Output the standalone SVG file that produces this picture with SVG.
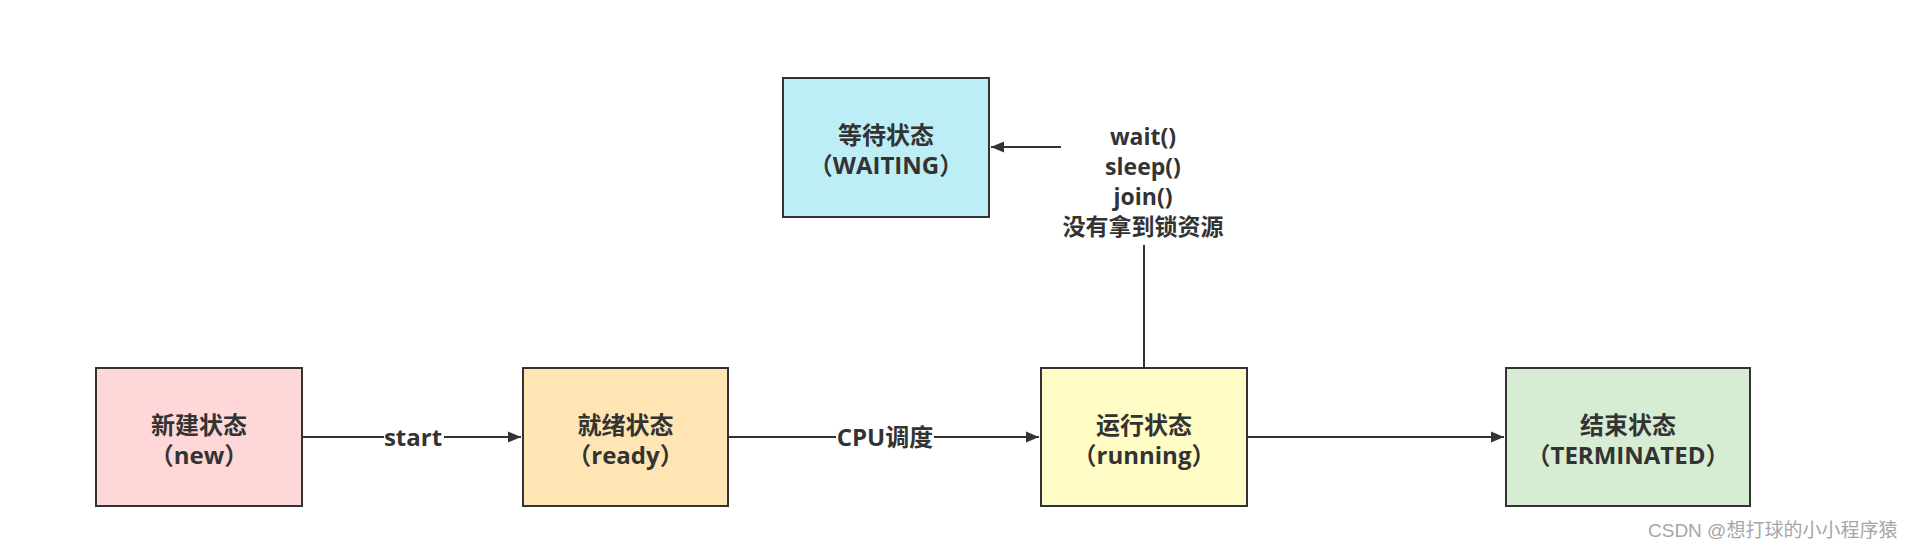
<svg xmlns="http://www.w3.org/2000/svg" width="1914" height="547" viewBox="0 0 1914 547">
<style>
.box{stroke:#333;stroke-width:2}
.lbl{font-family:"Open Sans","Noto Sans CJK SC",sans-serif;font-weight:bold;font-size:24px;fill:#333;text-anchor:middle}
.elbl{font-size:23px}
.edge{fill:none;stroke:#333;stroke-width:2}
.wm{font-family:"Liberation Sans","Noto Sans CJK SC",sans-serif;font-size:19px;fill:#a6a6a6}
</style>
<defs>
<marker id="arr" markerUnits="userSpaceOnUse" markerWidth="14" markerHeight="12" refX="13" refY="6" orient="auto">
<path d="M0,0.5 L13,6 L0,11.5 Z" fill="#333"/>
</marker>
</defs>
<rect width="1914" height="547" fill="#fff"/>

<g id="connectors">
<path class="edge" d="M302,437 H521" marker-end="url(#arr)"/>
<path class="edge" d="M728,437 H1039" marker-end="url(#arr)"/>
<path class="edge" d="M1247,437 H1504" marker-end="url(#arr)"/>
<path class="edge" d="M1144,368 V147 H991" marker-end="url(#arr)"/>
<rect x="384" y="422" width="60" height="30" fill="#fff"/>
<text class="lbl" x="413" y="446">start</text>
<rect x="836" y="422" width="98" height="30" fill="#fff"/>
<text class="lbl" x="885" y="446">CPU调度</text>
<rect x="1061" y="120" width="166" height="125" fill="#fff"/>
<text class="lbl elbl" x="1143" y="145"><tspan x="1143">wait()</tspan><tspan x="1143" dy="30">sleep()</tspan><tspan x="1143" dy="30">join()</tspan><tspan x="1143" dy="30">没有拿到锁资源</tspan></text>
</g>

<g id="node-new">
<rect class="box" x="96" y="368" width="206" height="138" fill="#fed8d8"/>
<text class="lbl" x="199" y="434"><tspan x="199">新建状态</tspan><tspan x="199" dy="30">（new）</tspan></text>
</g>
<g id="node-ready">
<rect class="box" x="523" y="368" width="205" height="138" fill="#fee5b3"/>
<text class="lbl" x="625.5" y="434"><tspan x="625.5">就绪状态</tspan><tspan x="625.5" dy="30">（ready）</tspan></text>
</g>
<g id="node-running">
<rect class="box" x="1041" y="368" width="206" height="138" fill="#fffcc6"/>
<text class="lbl" x="1144" y="434"><tspan x="1144">运行状态</tspan><tspan x="1144" dy="30">（running）</tspan></text>
</g>
<g id="node-terminated">
<rect class="box" x="1506" y="368" width="244" height="138" fill="#d6ecd3"/>
<text class="lbl" x="1628" y="434"><tspan x="1628">结束状态</tspan><tspan x="1628" dy="30">（TERMINATED）</tspan></text>
</g>
<g id="node-waiting">
<rect class="box" x="783" y="78" width="206" height="139" fill="#bdeef6"/>
<text class="lbl" x="886" y="144"><tspan x="886">等待状态</tspan><tspan x="886" dy="30">（WAITING）</tspan></text>
</g>

<text class="wm" x="1648" y="537">CSDN @想打球的小小程序猿</text>
</svg>
